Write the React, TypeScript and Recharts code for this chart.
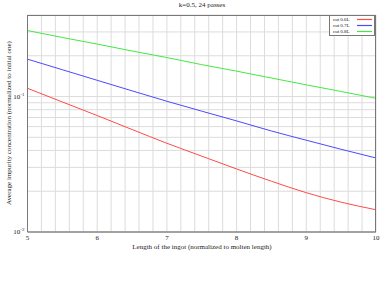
import { LineChart, Line, XAxis, YAxis, CartesianGrid } from "recharts";

const lengths = [5, 5.5, 6, 6.5, 7, 7.5, 8, 8.5, 9, 9.5, 10];
const cut06 = [0.115, 0.0912, 0.0724, 0.0571, 0.0452, 0.0363, 0.0292, 0.0237, 0.0195, 0.0166, 0.0146];
const cut07 = [0.1888, 0.1578, 0.1318, 0.1102, 0.0923, 0.078, 0.0661, 0.0557, 0.0476, 0.0408, 0.0352];
const cut08 = [0.307, 0.273, 0.244, 0.217, 0.194, 0.172, 0.154, 0.137, 0.122, 0.109, 0.097];

const xTicks = [5, 5.2, 5.4, 5.6, 5.8, 6, 6.2, 6.4, 6.6, 6.8, 7, 7.2, 7.4, 7.6, 7.8, 8, 8.2, 8.4, 8.6, 8.8, 9, 9.2, 9.4, 9.6, 9.8, 10];
const yTicks = [0.01, 0.02, 0.03, 0.04, 0.05, 0.06, 0.07, 0.08, 0.09, 0.1, 0.2, 0.3, 0.4];
const series = [
  { key: "c06", name: "cut  0.6L", color: "#ff4a4a" },
  { key: "c07", name: "cut  0.7L", color: "#4a4aff" },
  { key: "c08", name: "cut  0.8L", color: "#44e844" },
];

const data = lengths.map((x, i) => ({ x, c06: cut06[i], c07: cut07[i], c08: cut08[i] }));

const font = "'Liberation Serif', serif";

const XTick = ({ x, y, payload }: any) => {
  const v = payload.value;
  if (Math.abs(v - Math.round(v)) > 1e-6) return null;
  return (
    <text x={x} y={y} textAnchor="middle" fontSize={7} fontFamily={font} fill="#222">
      {Math.round(v)}
    </text>
  );
};

const YTick = ({ x, y, payload }: any) => {
  const v = payload.value;
  const exp = Math.round(Math.log10(v));
  if (Math.abs(Math.log10(v) - exp) > 1e-6) return null;
  return (
    <text x={x + 5} y={y + 2} textAnchor="end" fontSize={7} fontFamily={font} fill="#222">
      10
      <tspan dy={-3} fontSize={5}>{exp}</tspan>
    </text>
  );
};

export default function App() {
  return (
    <div style={{ position: "absolute", left: 0, top: 0, width: 381, height: 286, background: "#fff" }}>
      <LineChart width={381} height={286} data={data} margin={{ top: 15, right: 5, bottom: 40, left: 0 }}>
        <CartesianGrid stroke="#dcdcdc" strokeWidth={1} horizontalValues={yTicks} verticalValues={xTicks} />
        <XAxis
          dataKey="x"
          type="number"
          domain={[5, 10]}
          ticks={xTicks}
          interval={0}
          tick={<XTick />}
          tickLine={false}
          axisLine={{ stroke: "#888", strokeWidth: 1.5 }}
          height={14}
          allowDataOverflow
        />
        <YAxis
          type="number"
          scale="log"
          domain={[0.01, 0.4]}
          ticks={yTicks}
          interval={0}
          tick={<YTick />}
          tickLine={false}
          axisLine={{ stroke: "#777", strokeWidth: 1 }}
          width={27.5}
          allowDataOverflow
        />
        {series.map((s) => (
          <Line
            key={s.key}
            dataKey={s.key}
            name={s.name}
            type="monotone"
            stroke={s.color}
            strokeWidth={1}
            dot={false}
            isAnimationActive={false}
          />
        ))}
      </LineChart>
      <div style={{ position: "absolute", left: 27.5, top: 15, width: 348.5, height: 216.5, border: "1px solid #777", borderLeft: "none", borderBottom: "none", boxSizing: "border-box", pointerEvents: "none" }} />
      <div
        style={{
          position: "absolute",
          left: 329,
          top: 15,
          width: 46,
          boxSizing: "border-box",
          border: "1px solid #777",
          background: "#fff",
          padding: "1px 2px 1px 3px",
          fontFamily: font,
          fontSize: 5,
          lineHeight: "5.8px",
          color: "#222",
        }}
      >
        {series.map((s) => (
          <div key={s.key} style={{ display: "flex", alignItems: "center", justifyContent: "space-between" }}>
            <span>{s.name}</span>
            <svg width={15} height={3} style={{ display: "block" }}>
              <line x1={0} x2={15} y1={1.5} y2={1.5} stroke={s.color} strokeWidth={1.2} />
            </svg>
          </div>
        ))}
      </div>
      <div style={{ position: "absolute", left: 0, top: 1, width: 404, textAlign: "center", fontFamily: font, fontSize: 7, color: "#222" }}>
        k=0.5, 24 passes
      </div>
      <div style={{ position: "absolute", left: 0, top: 243, width: 404, textAlign: "center", fontFamily: font, fontSize: 7, color: "#222" }}>
        Length of the ingot (normalized to molten length)
      </div>
      <div
        style={{
          position: "absolute",
          left: 9,
          top: 123,
          transform: "translate(-50%, -50%) rotate(-90deg)",
          whiteSpace: "nowrap",
          fontFamily: font,
          fontSize: 7,
          color: "#222",
        }}
      >
        Average impurity concentration (normalized to initial one)
      </div>
    </div>
  );
}
